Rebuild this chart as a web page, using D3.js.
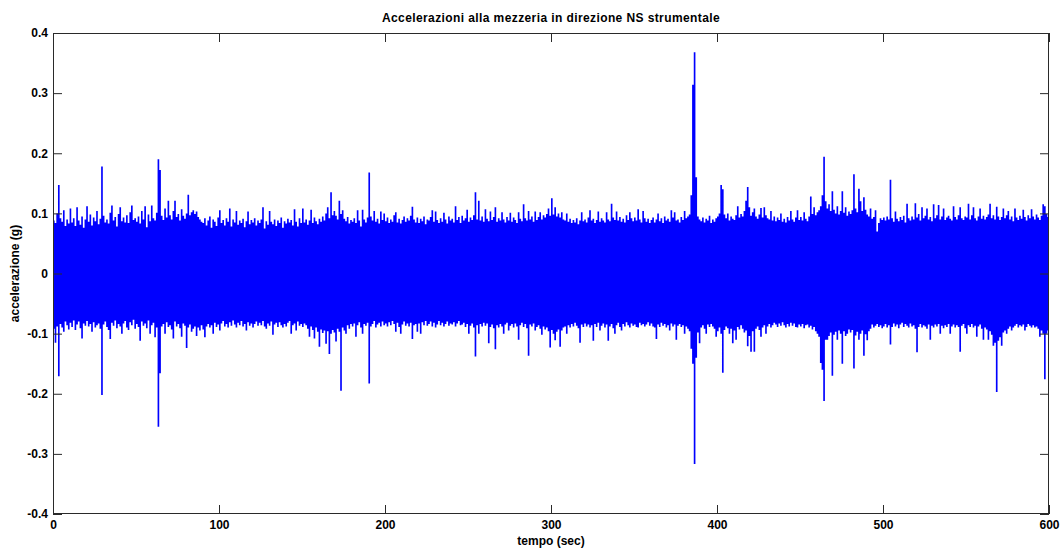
<!DOCTYPE html>
<html>
<head>
<meta charset="utf-8">
<script src="https://cdn.jsdelivr.net/npm/d3@7"></script>
<style>
  body { margin: 0; background: #fff; }
  svg text { font-family: "Liberation Sans", Arial, Helvetica, sans-serif; font-weight: bold; font-size: 12px; fill: #000; }
  svg text.title { letter-spacing: 0.4px; }
</style>
</head>
<body>
<svg id="chart" width="1062" height="550"></svg>
<script>
// Labels and ticks
const chartTitle = "Accelerazioni alla mezzeria in direzione NS strumentale";
const xLabel = "tempo (sec)";
const yLabel = "accelerazione (g)";
const xTicks = [0, 100, 200, 300, 400, 500, 600];
const xTickLabels = ["0", "100", "200", "300", "400", "500", "600"];
const yTicks = [-0.4, -0.3, -0.2, -0.1, 0, 0.1, 0.2, 0.3, 0.4];
const yTickLabels = ["-0.4", "-0.3", "-0.2", "-0.1", "0", "0.1", "0.2", "0.3", "0.4"];

// Record: 600 s, summarised as the max and min acceleration within each 1-second window (milli-g)
const binSeconds = 1;
const peakHighMg = [
  88,84,100,147,92,86,105,79,90,83,
  108,85,92,79,110,88,81,95,76,90,
  112,86,98,80,93,87,104,82,91,178,
  96,85,90,83,101,113,88,94,78,99,
  110,87,93,85,97,84,102,113,89,92,
  86,95,83,104,90,112,77,98,87,113,
  92,88,101,190,172,96,89,108,93,121,
  97,90,104,121,94,99,88,107,96,91,
  100,131,97,102,105,99,103,94,90,86,
  84,92,80,88,95,76,90,86,79,93,
  105,84,89,80,92,86,108,78,90,85,
  104,81,88,84,91,77,87,103,82,89,
  85,92,80,88,84,90,110,75,87,81,
  104,86,82,90,79,88,84,93,76,87,
  83,91,85,89,80,107,86,78,92,84,
  108,85,90,81,88,106,84,93,87,82,
  91,86,95,88,100,110,92,135,97,104,
  96,90,121,99,105,91,87,94,83,89,
  86,92,84,105,88,78,106,90,85,93,
  168,95,88,104,86,91,83,103,89,100,
  87,93,84,90,86,97,102,85,91,83,
  89,95,86,92,88,96,111,90,85,93,
  84,91,87,95,82,90,88,94,105,86,
  103,89,84,92,86,101,90,83,95,88,
  91,85,112,89,94,84,96,88,92,106,
  86,93,89,97,135,90,121,88,95,86,
  107,91,87,103,89,94,110,86,92,88,
  102,90,85,94,88,101,86,93,89,84,
  102,91,87,115,92,88,104,90,95,86,
  103,89,94,102,90,97,93,99,108,96,
  125,98,110,95,100,93,102,90,88,100,
  86,91,84,89,85,92,82,88,102,87,
  90,85,93,105,88,91,84,89,103,86,
  92,88,85,102,90,87,116,93,89,103,
  88,94,86,91,85,97,89,102,92,87,
  93,88,107,90,85,104,92,86,91,84,
  89,93,85,90,100,87,92,84,95,88,
  91,86,105,93,102,88,90,85,94,89,
  104,92,95,98,130,314,368,160,95,90,
  87,93,85,91,88,96,84,90,86,92,
  95,100,147,140,98,92,100,88,95,91,
  89,97,112,93,99,95,104,121,144,110,
  96,102,108,95,91,98,109,93,110,97,
  92,90,104,88,95,87,93,89,100,86,
  91,85,94,88,104,90,86,93,105,89,
  94,88,102,91,87,95,128,99,110,97,
  102,105,112,130,194,120,108,115,104,137,
  106,100,112,98,104,137,101,110,96,103,
  99,105,165,108,102,141,120,104,127,106,
  98,95,108,91,94,105,70,84,92,89,
  93,88,95,90,156,92,86,103,91,87,
  94,89,96,85,116,92,88,95,90,117,
  93,99,88,110,92,96,108,90,94,87,
  115,92,97,114,90,95,108,89,93,96,
  91,88,112,94,90,97,110,92,89,95,
  93,116,90,97,110,92,88,95,108,91,
  96,90,94,98,116,92,97,90,111,95,
  89,94,108,92,97,104,90,95,87,108,
  93,89,96,91,106,94,88,97,92,107,
  95,90,98,93,89,96,115,112,99,94
];
const peakLowMg = [
  -92,-115,-88,-171,-84,-90,-97,-80,-86,-93,
  -82,-89,-78,-94,-85,-80,-91,-108,-83,-87,
  -79,-88,-84,-97,-81,-90,-86,-83,-92,-202,
  -85,-80,-89,-94,-109,-82,-87,-78,-91,-84,
  -88,-100,-83,-79,-90,-94,-81,-86,-77,-92,
  -84,-89,-112,-80,-87,-83,-91,-78,-100,-86,
  -82,-106,-90,-255,-166,-88,-84,-100,-81,-89,
  -86,-93,-108,-80,-88,-84,-91,-105,-83,-87,
  -124,-90,-85,-97,-92,-88,-104,-90,-95,-86,
  -93,-106,-88,-84,-90,-86,-100,-82,-89,-85,
  -95,-83,-79,-88,-84,-90,-81,-87,-78,-85,
  -90,-82,-86,-79,-88,-84,-95,-81,-87,-83,
  -90,-84,-80,-87,-82,-86,-79,-88,-92,-83,
  -87,-80,-102,-85,-82,-89,-81,-86,-90,-84,
  -88,-82,-79,-100,-86,-83,-95,-80,-87,-84,
  -89,-83,-86,-92,-105,-88,-94,-108,-90,-97,
  -122,-93,-99,-95,-117,-96,-134,-100,-94,-98,
  -113,-92,-97,-195,-90,-95,-100,-86,-92,-84,
  -88,-83,-105,-86,-81,-90,-100,-84,-87,-82,
  -183,-88,-84,-79,-90,-85,-82,-88,-80,-86,
  -83,-88,-81,-86,-79,-84,-97,-82,-89,-100,
  -85,-80,-87,-83,-88,-82,-109,-86,-84,-97,
  -83,-100,-81,-86,-79,-87,-84,-80,-88,-82,
  -90,-85,-79,-86,-82,-88,-84,-80,-87,-83,
  -85,-81,-88,-83,-79,-86,-85,-82,-89,-84,
  -100,-87,-83,-90,-138,-86,-100,-84,-88,-82,
  -87,-83,-116,-89,-85,-91,-126,-86,-90,-84,
  -88,-100,-85,-82,-95,-87,-84,-90,-83,-88,
  -110,-86,-82,-89,-84,-91,-137,-85,-88,-83,
  -95,-89,-86,-92,-102,-88,-93,-90,-96,-123,
  -94,-100,-111,-97,-93,-122,-95,-90,-88,-100,
  -86,-90,-84,-88,-82,-87,-91,-115,-85,-89,
  -83,-88,-85,-90,-86,-112,-84,-89,-82,-95,
  -87,-83,-90,-85,-112,-88,-84,-91,-100,-86,
  -82,-89,-95,-84,-88,-81,-86,-90,-83,-87,
  -85,-89,-90,-82,-86,-84,-88,-85,-81,-87,
  -83,-88,-90,-109,-85,-89,-82,-87,-84,-90,
  -86,-95,-83,-88,-85,-110,-87,-84,-89,-86,
  -100,-88,-92,-96,-125,-150,-317,-140,-98,-116,
  -90,-86,-92,-100,-85,-89,-84,-88,-92,-105,
  -96,-90,-100,-165,-94,-88,-91,-100,-92,-116,
  -95,-110,-89,-93,-86,-92,-98,-95,-121,-104,
  -130,-96,-130,-92,-88,-94,-105,-90,-86,-100,
  -88,-84,-90,-86,-82,-85,-89,-83,-87,-81,
  -86,-90,-84,-88,-82,-87,-83,-89,-90,-85,
  -88,-84,-91,-86,-85,-90,-87,-93,-89,-96,
  -100,-105,-149,-160,-212,-110,-110,-104,-98,-170,
  -102,-97,-110,-95,-100,-150,-96,-104,-100,-93,
  -98,-94,-158,-103,-97,-110,-100,-95,-137,-101,
  -111,-96,-92,-85,-90,-87,-84,-89,-86,-91,
  -88,-84,-90,-86,-118,-89,-83,-88,-85,-91,
  -85,-82,-89,-84,-87,-90,-83,-88,-86,-92,
  -131,-89,-84,-90,-86,-88,-92,-85,-110,-87,
  -90,-85,-88,-84,-100,-87,-91,-86,-89,-84,
  -100,-88,-85,-90,-86,-89,-130,-87,-84,-91,
  -100,-86,-89,-84,-90,-87,-105,-88,-85,-92,
  -110,-90,-93,-110,-96,-102,-120,-115,-197,-112,
  -106,-120,-98,-95,-100,-92,-88,-95,-90,-87,
  -84,-90,-86,-88,-85,-95,-89,-84,-87,-90,
  -86,-90,-88,-92,-105,-95,-100,-176,-100,-95
];

// Plot geometry
const width = 1062, height = 550;
const plot = { left: 53, right: 1049, top: 33, bottom: 514 };
const tickLen = 9;
const axisColor = "#2a2a2a";
const traceColor = "#0000ff";

const svg = d3.select("#chart");
svg.append("rect").attr("width", width).attr("height", height).attr("fill", "#fff");

const x = d3.scaleLinear().domain([0, 600]).range([plot.left, plot.right]);
const y = d3.scaleLinear().domain([-0.4, 0.4]).range([plot.bottom, plot.top]);

// Per-window envelope: each window spans [t, t + binSeconds)
const windows = peakHighMg.map((hi, i) => ({ t: i * binSeconds, hi: hi / 1000, lo: peakLowMg[i] / 1000 }));
const last = windows[windows.length - 1];
windows.push({ t: last.t + binSeconds, hi: last.hi, lo: last.lo });

svg.append("clipPath").attr("id", "plot-clip")
  .append("rect")
  .attr("x", plot.left).attr("y", plot.top)
  .attr("width", plot.right - plot.left).attr("height", plot.bottom - plot.top);

const envelope = d3.area()
  .x(d => x(d.t))
  .y0(d => y(d.lo))
  .y1(d => y(d.hi))
  .curve(d3.curveStepAfter);

svg.append("path")
  .datum(windows)
  .attr("clip-path", "url(#plot-clip)")
  .attr("d", envelope)
  .attr("fill", traceColor);

// Axes: inward ticks on all four sides, labels only bottom and left
const fmtX = v => xTickLabels[xTicks.indexOf(v)];
const fmtY = v => yTickLabels[yTicks.indexOf(v)];

function styleAxis(g) {
  g.select(".domain").remove();
  g.selectAll(".tick line").attr("stroke", axisColor);
  g.selectAll(".tick text").attr("fill", "#000");
  g.attr("font-family", null).attr("font-size", null);
}

svg.append("g")
  .attr("transform", `translate(0,${plot.bottom})`)
  .call(d3.axisBottom(x).tickValues(xTicks).tickFormat(fmtX).tickSizeInner(-tickLen).tickSizeOuter(0).tickPadding(6))
  .call(styleAxis);

svg.append("g")
  .attr("transform", `translate(0,${plot.top})`)
  .call(d3.axisTop(x).tickValues(xTicks).tickFormat("").tickSizeInner(-tickLen).tickSizeOuter(0))
  .call(styleAxis);

svg.append("g")
  .attr("transform", `translate(${plot.left},0)`)
  .call(d3.axisLeft(y).tickValues(yTicks).tickFormat(fmtY).tickSizeInner(-tickLen).tickSizeOuter(0).tickPadding(5))
  .call(styleAxis);

svg.append("g")
  .attr("transform", `translate(${plot.right},0)`)
  .call(d3.axisRight(y).tickValues(yTicks).tickFormat("").tickSizeInner(-tickLen).tickSizeOuter(0))
  .call(styleAxis);

// Axes box
svg.append("rect")
  .attr("x", plot.left + 0.5).attr("y", plot.top + 0.5)
  .attr("width", plot.right - plot.left - 1).attr("height", plot.bottom - plot.top - 1)
  .attr("fill", "none").attr("stroke", axisColor).attr("stroke-width", 1);

// Title and axis labels
svg.append("text")
  .attr("class", "title")
  .attr("x", (plot.left + plot.right) / 2).attr("y", 22)
  .attr("text-anchor", "middle")
  .text(chartTitle);

svg.append("text")
  .attr("x", (plot.left + plot.right) / 2).attr("y", 545)
  .attr("text-anchor", "middle")
  .text(xLabel);

svg.append("text")
  .attr("transform", `translate(19,${(plot.top + plot.bottom) / 2}) rotate(-90)`)
  .attr("text-anchor", "middle")
  .text(yLabel);
</script>
</body>
</html>
